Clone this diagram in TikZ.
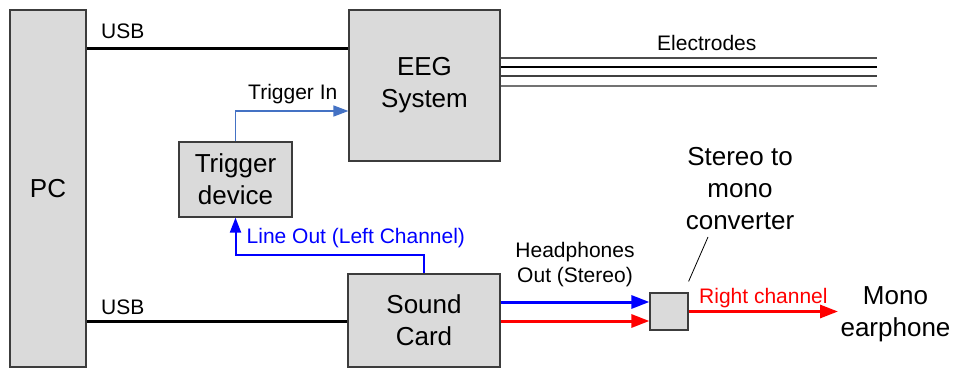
\documentclass[tikz,border=0pt]{standalone}
\usepackage{fontspec}
\setmainfont{Liberation Sans}
\usetikzlibrary{arrows.meta,calc}
\definecolor{boxfill}{RGB}{218,218,218}
\definecolor{boxdraw}{RGB}{60,60,60}
\definecolor{trigblue}{RGB}{68,114,196}
\definecolor{pureblue}{RGB}{0,0,255}
\definecolor{purered}{RGB}{255,0,0}
\newcommand\diaglarge{\fontsize{26}{32}\selectfont}
\newcommand\diagsmall{\fontsize{21}{25}\selectfont}
\begin{document}
\begin{tikzpicture}[x=1pt,y=-1pt,
  box/.style={draw=boxdraw, fill=boxfill, line width=1.2pt, inner sep=0pt, align=center, font=\diaglarge},
  lbl/.style={inner sep=0pt, font=\diagsmall},
  biglbl/.style={inner sep=0pt, align=center, font=\diaglarge},
  usbline/.style={line width=3pt, black},
  trigin/.style={line width=1.6pt, trigblue, -{Triangle[length=15pt,width=11pt]}},
  lineout/.style={line width=2pt, pureblue, -{Triangle[length=15pt,width=11pt]}},
  hpblue/.style={line width=3pt, pureblue, -{Triangle[length=18pt,width=13pt]}},
  hpred/.style={line width=3pt, purered, -{Triangle[length=18pt,width=13pt]}},
  leader/.style={line width=0.8pt, black}
]
\useasboundingbox (0,0) rectangle (957,369);
\fill[white] (0,0) rectangle (957,369);

% boxes
\node[box, minimum width=76pt, minimum height=357pt] (pc) at (48,188.5) {PC};
\node[box, minimum width=151pt, minimum height=151pt] (eeg) at (424.5,85.5) {EEG\\System};
\node[box, minimum width=113pt, minimum height=75pt] (trig) at (235.5,179.5) {Trigger\\device};
\node[box, minimum width=152pt, minimum height=93pt] (sound) at (424,320.5) {Sound\\Card};
\node[box, minimum width=38pt, minimum height=37pt] (conv) at (669,311.5) {};

% free ends
\coordinate (eend) at (877,58);
\coordinate (earend) at (838,311.5);

% USB
\draw[usbline] (pc.east |- 0,49) -- (eeg.west |- 0,49);
\draw[usbline] (pc.east |- 0,321) -- (sound.west |- 0,321);
\node[lbl, anchor=base west] (usbtop) at (101,39) {USB};
\node[lbl, anchor=base west] (usbbot) at (101,314) {USB};

% electrodes
\draw[line width=1.1pt, black!70] (eeg.east |- 0,58) -- (eend |- 0,58);
\draw[line width=1.1pt, black] (eeg.east |- 0,67) -- (eend |- 0,67);
\draw[line width=1.1pt, black!75] (eeg.east |- 0,76) -- (eend |- 0,76);
\draw[line width=1.4pt, black!55] (eeg.east |- 0,86) -- (eend |- 0,86);
\node[lbl, anchor=base west] (electrodes) at (657,51) {Electrodes};

% trigger in
\draw[trigin] (trig.north) |- (eeg.west |- 0,111);
\node[lbl, anchor=base west] (trigl) at (248,99.5) {Trigger In};

% line out
\draw[lineout] (sound.north) -- (sound.north |- 0,255) -| (trig.south);
\node[lbl, anchor=base west, text=pureblue] (lol) at (246.5,243) {Line Out (Left Channel)};

% headphones
\draw[hpblue] (sound.east |- 0,302) -- (conv.west |- 0,302);
\draw[hpred] (sound.east |- 0,321) -- (conv.west |- 0,321);
\node[lbl, align=center] (hpl) at (575,265) {Headphones\\Out (Stereo)};

% right channel
\draw[hpred] (conv.east) -- (earend);
\node[lbl, anchor=base west, text=purered] (rcl) at (699,303) {Right channel};

% converter label and leader
\node[biglbl] (convl) at (740,189) {Stereo to\\mono\\converter};
\draw[leader] (708,237) -- ($(conv.north east)+(0,-11)$);

% mono earphone
\node[biglbl] (mono) at (895.5,314.5) {Mono\\earphone};
\end{tikzpicture}
\end{document}
